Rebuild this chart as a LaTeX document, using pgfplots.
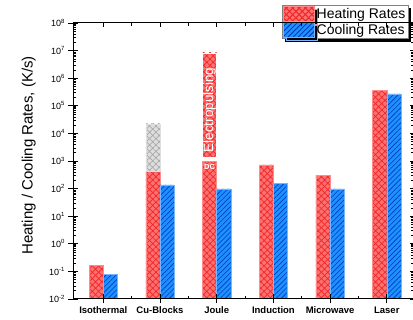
\documentclass[border=0pt]{standalone}
\usepackage{fontspec}
\setmainfont{Liberation Sans}
\usepackage{pgfplots}
\pgfplotsset{compat=1.18}
\usetikzlibrary{patterns.meta,shadows}
\definecolor{hfill}{RGB}{255,112,112}
\definecolor{hline}{RGB}{238,40,40}
\definecolor{hedge}{RGB}{255,140,140}
\definecolor{cfill}{RGB}{30,144,255}
\definecolor{cline}{RGB}{0,55,185}
\definecolor{cedge}{RGB}{120,180,255}
\definecolor{gfill}{RGB}{222,222,222}
\definecolor{gline}{RGB}{170,170,170}
\tikzset{
  heat/.style={fill=hfill, draw=hedge, line width=0.5pt,
    postaction={pattern={Hatch[angle=45,distance=4.5pt,line width=0.7pt]}, pattern color=hline}},
  cool/.style={fill=cfill, draw=cedge, line width=0.5pt,
    postaction={pattern={Lines[angle=45,distance=3.6pt,line width=0.6pt]}, pattern color=cline}},
  grey/.style={fill=gfill, draw=gfill, line width=0.5pt,
    postaction={pattern={Hatch[angle=45,distance=4.5pt,line width=0.7pt]}, pattern color=gline}},
}
\begin{document}
\begin{tikzpicture}[x=1pt,y=1pt]
\begin{axis}[
  at={(73pt,21pt)}, anchor=south west, scale only axis,
  width=341pt, height=276pt, xmin=-0.534, xmax=5.48,
  ymode=log, ymin=1e-2, ymax=1e8, log origin y=infty,
  xtick={0,...,5},
  ytick={1e-2,1e-1,1,1e1,1e2,1e3,1e4,1e5,1e6,1e7,1e8},
  axis line style={line width=1pt},
  every tick/.style={black, line width=0.8pt},
  major tick length=4.5pt,
  xticklabels={Isothermal,Cu-Blocks,Joule,Induction,Microwave,Laser},
  yticklabels={10\textsuperscript{-2},10\textsuperscript{-1},10\textsuperscript{0},10\textsuperscript{1},10\textsuperscript{2},10\textsuperscript{3},10\textsuperscript{4},10\textsuperscript{5},10\textsuperscript{6},10\textsuperscript{7},10\textsuperscript{8}},
  tick align=outside, xtick pos=bottom, ytick pos=left, yminorticks=false,
  x tick label style={font=\fontsize{9.5}{11}\selectfont\bfseries},
  y tick label style={font=\fontsize{9}{10}\selectfont},
  ylabel={Heating / Cooling Rates, (K/s)},
  every axis y label/.style={at={(rel axis cs:-0.13,0.52)}, anchor=center, rotate=90, font=\fontsize{15}{17}\selectfont},
  legend style={at={(0.613,1.065)}, anchor=north west, draw=gray, fill=white,
    font=\fontsize{14}{15}\selectfont, inner sep=1pt, row sep=0pt,
    drop shadow={shadow xshift=3pt, shadow yshift=-3pt, fill=black, opacity=1}},
  legend cell align=left,
]
\addplot[ybar, bar width=0.25, bar shift=-0.125, heat,
  legend image code/.code={\draw[heat] (0pt,-7.5pt) rectangle (31pt,7.5pt);}]
  coordinates {(0,0.17) (1,440) (2,980) (3,720) (4,310) (5,3.7e5)};
\addlegendentry{Heating Rates}
\addplot[ybar, bar width=0.25, bar shift=0.125, cool,
  legend image code/.code={\draw[cool] (0pt,-7.5pt) rectangle (31pt,7.5pt);}]
  coordinates {(0,0.08) (1,135) (2,98) (3,150) (4,98) (5,2.7e5)};
\addlegendentry{Cooling Rates}
% Cu-Blocks upper range (grey)
\addplot[grey, forget plot] coordinates {(0.75,440) (1.0,440) (1.0,22000) (0.75,22000)} -- cycle;
% Joule electropulsing range
\addplot[heat, draw=white, forget plot] coordinates {(1.75,1400) (2.0,1400) (2.0,8.3e6) (1.75,8.3e6)} -- cycle;
\node[rotate=90, white, font=\fontsize{13.5}{14}\selectfont] at (axis cs:1.875,7.0e4) {Electropulsing};
\node[white, font=\fontsize{7.5}{8}\selectfont\bfseries] at (axis cs:1.875,600) {DC};
\end{axis}
\begin{axis}[
  at={(73pt,21pt)}, anchor=south west, scale only axis,
  width=341pt, height=276pt, xmin=-0.534, xmax=5.48,
  ymode=log, ymin=1e-2, ymax=1e8,
  xtick={0,...,5},
  ytick={1e-2,1e-1,1,1e1,1e2,1e3,1e4,1e5,1e6,1e7,1e8},
  axis line style={line width=1pt},
  every tick/.style={black, line width=0.8pt},
  major tick length=4.5pt, minor tick length=2.8pt,
  xticklabels={}, yticklabels={},
  minor x tick num=1,
  tick align=inside, xtick pos=both, ytick pos=both,
  every minor tick/.style={black, line width=0.5pt},
]
\addplot[draw=none, forget plot] coordinates {(0,1) (1,10)};
\end{axis}
\pgfresetboundingbox
\path[use as bounding box] (0,0) rectangle (413,320);
\end{tikzpicture}
\end{document}
